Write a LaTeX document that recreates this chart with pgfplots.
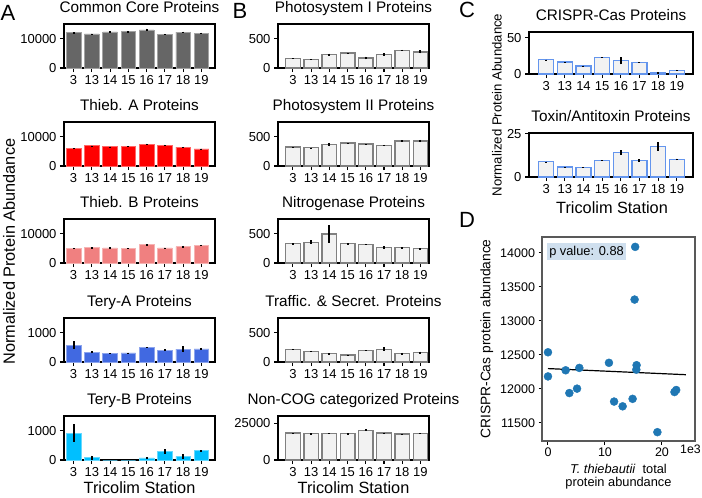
\documentclass[border=0pt]{standalone}
\usepackage{pgfplots}
\pgfplotsset{compat=1.18}
\usepackage{fontspec}
\setmainfont{Liberation Sans}
\definecolor{ccgray}{HTML}{666666}
\definecolor{thA}{HTML}{FF0000}
\definecolor{thB}{HTML}{F08080}
\definecolor{teA}{HTML}{4169E1}
\definecolor{teB}{HTML}{00BFFF}
\definecolor{lgfill}{HTML}{F2F2F2}
\definecolor{bedge}{HTML}{808080}
\definecolor{cedge}{HTML}{6495ED}
\definecolor{dblue}{HTML}{1F77B4}
\definecolor{pbox}{HTML}{CFDFEE}
\pgfplotsset{
  /pgf/number format/assume math mode=true,
  /pgf/number format/1000 sep={},
  barax/.style={
    scale only axis, width=151pt, height=44pt, anchor=north west,
    xmin=-0.6, xmax=7.6, ymin=0,
    xtick={0,...,7}, xticklabels={3,13,14,15,16,17,18,19},
    axis line style={line width=1.1pt, black},
    tick align=outside, tick pos=left, major tick length=4pt,
    every tick/.style={line width=1.1pt, black},
    tick label style={font=\fontsize{13}{15}\selectfont},
    xticklabel style={text height=9.3pt, text depth=0pt},
    title style={font=\fontsize{15.3}{17}\selectfont, anchor=base, yshift=6pt},
    scaled y ticks=false,
    ybar, bar width=0.8,
  },
  errs/.style={error bars/.cd, y dir=both, y explicit, error mark=none,
    error bar style={line width=2pt, black}},
}
\begin{document}
\begin{tikzpicture}[x=1pt,y=1pt]
\useasboundingbox (0,0) rectangle (702,-498);
% ---------------- Panel A ----------------
\begin{axis}[barax, at={(64pt,-24pt)}, xmin=-0.52, xmax=7.74, ymax=15000, ytick={0,10000}, title={Common Core Proteins}]
\addplot[fill=ccgray, draw=ccgray!60!white, line width=0.6pt, errs] table[x=x,y=y,y error=e, row sep=\\] {
x y e\\ 0 12100 150\\ 1 11600 120\\ 2 12300 150\\ 3 12400 80\\ 4 13000 400\\ 5 11500 100\\ 6 12200 200\\ 7 11900 200\\};
\end{axis}
\begin{axis}[barax, at={(64pt,-122pt)}, xmin=-0.52, xmax=7.74, ymax=15000, ytick={0,10000}, title={Thieb. A Proteins}]
\addplot[fill=thA, draw=thA!60!white, line width=0.6pt, errs] table[x=x,y=y,y error=e, row sep=\\] {
x y e\\ 0 6000 100\\ 1 6900 80\\ 2 6550 80\\ 3 6800 80\\ 4 7450 200\\ 5 7100 150\\ 6 6450 100\\ 7 5850 100\\};
\end{axis}
\begin{axis}[barax, at={(64pt,-219pt)}, xmin=-0.52, xmax=7.74, ymax=15000, ytick={0,10000}, title={Thieb. B Proteins}]
\addplot[fill=thB, draw=thB!60!white, line width=0.6pt, errs] table[x=x,y=y,y error=e, row sep=\\] {
x y e\\ 0 5050 150\\ 1 5280 80\\ 2 5170 150\\ 3 5030 50\\ 4 6300 120\\ 5 5170 100\\ 6 5620 200\\ 7 6070 120\\};
\end{axis}
\begin{axis}[barax, at={(64pt,-318pt)}, xmin=-0.52, xmax=7.74, ymax=1500, ytick={0,1000}, title={Tery-A Proteins}]
\addplot[fill=teA, draw=teA!60!white, line width=0.6pt, errs] table[x=x,y=y,y error=e, row sep=\\] {
x y e\\ 0 575 130\\ 1 334 40\\ 2 300 15\\ 3 310 5\\ 4 495 10\\ 5 403 25\\ 6 437 100\\ 7 448 30\\};
\end{axis}
\begin{axis}[barax, at={(64pt,-416pt)}, xmin=-0.52, xmax=7.74, ymax=1500, ytick={0,1000}, title={Tery-B Proteins}]
\addplot[fill=teB, draw=teB!60!white, line width=0.6pt, errs] table[x=x,y=y,y error=e, row sep=\\] {
x y e\\ 0 915 300\\ 1 80 70\\ 2 0 0\\ 3 0 0\\ 4 70 30\\ 5 290 80\\ 6 125 80\\ 7 315 12\\};
\end{axis}
% ---------------- Panel B ----------------
\begin{axis}[barax, at={(278pt,-24pt)}, xmin=-0.82, xmax=7.47, ymax=750, ytick={0,500}, title={Photosystem I Proteins}]
\addplot[fill=lgfill, draw=bedge, line width=1.3pt, errs] table[x=x,y=y,y error=e, row sep=\\] {
x y e\\ 0 162 5\\ 1 145 3\\ 2 228 15\\ 3 258 5\\ 4 170 22\\ 5 228 20\\ 6 300 10\\ 7 275 25\\};
\end{axis}
\begin{axis}[barax, at={(278pt,-122pt)}, xmin=-0.82, xmax=7.47, ymax=750, ytick={0,500}, title={Photosystem II Proteins}]
\addplot[fill=lgfill, draw=bedge, line width=1.3pt, errs] table[x=x,y=y,y error=e, row sep=\\] {
x y e\\ 0 325 3\\ 1 312 3\\ 2 365 30\\ 3 390 3\\ 4 375 6\\ 5 350 10\\ 6 425 12\\ 7 425 20\\};
\end{axis}
\begin{axis}[barax, at={(278pt,-219pt)}, xmin=-0.82, xmax=7.47, ymax=750, ytick={0,500}, title={Nitrogenase Proteins}]
\addplot[fill=lgfill, draw=bedge, line width=1.3pt, errs] table[x=x,y=y,y error=e, row sep=\\] {
x y e\\ 0 330 5\\ 1 355 30\\ 2 495 150\\ 3 330 5\\ 4 318 10\\ 5 262 20\\ 6 262 5\\ 7 245 5\\};
\end{axis}
\begin{axis}[barax, at={(278pt,-318pt)}, xmin=-0.82, xmax=7.47, ymax=750, ytick={0,500}, title={Traffic. \& Secret. Proteins}]
\addplot[fill=lgfill, draw=bedge, line width=1.3pt, errs] table[x=x,y=y,y error=e, row sep=\\] {
x y e\\ 0 219 3\\ 1 184 4\\ 2 144 3\\ 3 121 3\\ 4 201 3\\ 5 219 30\\ 6 144 10\\ 7 161 15\\};
\end{axis}
\begin{axis}[barax, at={(278pt,-416pt)}, xmin=-0.82, xmax=7.47, ymax=30000, ytick={0,25000}, title={Non-COG categorized Proteins}]
\addplot[fill=lgfill, draw=bedge, line width=1.3pt, errs] table[x=x,y=y,y error=e, row sep=\\] {
x y e\\ 0 18400 150\\ 1 18000 200\\ 2 18200 150\\ 3 18000 100\\ 4 20300 500\\ 5 18400 300\\ 6 17800 100\\ 7 18100 100\\};
\end{axis}
% ---------------- Panel C ----------------
\begin{axis}[barax, at={(529pt,-32pt)}, width=164pt, height=42pt, xmin=-0.92, xmax=7.87, ymax=58, ytick={0,50}, title={CRISPR-Cas Proteins}]
\addplot[fill=lgfill, draw=cedge, line width=1.3pt, errs] table[x=x,y=y,y error=e, row sep=\\] {
x y e\\ 0 19.6 0.3\\ 1 16.4 0.3\\ 2 11.2 0.5\\ 3 22.8 0.2\\ 4 18.2 5\\ 5 15.9 0.3\\ 6 1.8 0.5\\ 7 5.2 0.5\\};
\end{axis}
\begin{axis}[barax, at={(529pt,-133pt)}, width=164pt, height=44pt, xmin=-0.92, xmax=7.87, ymax=25.5, ytick={0,25}, title={Toxin/Antitoxin Proteins}]
\addplot[fill=lgfill, draw=cedge, line width=1.3pt, errs] table[x=x,y=y,y error=e, row sep=\\] {
x y e\\ 0 8.8 0.1\\ 1 5.8 0.1\\ 2 5.6 0.2\\ 3 9.6 0.1\\ 4 14.2 1.2\\ 5 9.6 0.8\\ 6 17.7 2.5\\ 7 10.2 0.4\\};
\end{axis}
% ---------------- Panel D ----------------
\begin{axis}[scale only axis, width=153pt, height=204pt, anchor=north west, at={(542pt,-237pt)},
  xmin=-1.05, xmax=25.8, ymin=11235, ymax=14235,
  xtick={0,10,20}, ytick={11500,12000,...,14000},
  axis line style={line width=1.1pt, black!65},
  tick align=outside, tick pos=left, major tick length=3.5pt,
  every tick/.style={line width=1pt, black},
  tick label style={font=\fontsize{12.5}{14}\selectfont},
  scaled ticks=false,
  ylabel={CRISPR-Cas protein abundance},
  ylabel style={font=\fontsize{13.8}{15}\selectfont},
  xlabel={\textit{T. thiebautii}\ \ total\\protein abundance},
  xlabel style={font=\fontsize{12.8}{13.5}\selectfont, align=center},
  clip=false]
\addplot[only marks, mark=*, mark size=4pt, color=dblue, mark options={fill=dblue, draw=dblue}] coordinates {
(0,12540) (0,12185) (3.1,12275) (3.75,11940) (5.5,12310) (5.1,12005) (10.7,12385) (11.6,11815) (13.1,11745) (14.85,11855) (15.3,14090) (15.2,13315) (15.55,12350) (15.5,12285) (19.2,11365) (22.2,11955) (22.5,11985)};
\addplot[black, line width=1.2pt] coordinates {(0,12300) (24.2,12210)};
\node[fill=pbox, anchor=north west, inner sep=2.5pt, font=\fontsize{12.8}{14}\selectfont] at (rel axis cs:0.03,0.97) {p value: 0.88};
\node[font=\fontsize{12.3}{14}\selectfont, anchor=center] at (rel axis cs:1,0) [xshift=-4.5pt, yshift=-8.5pt] {1e3};
\end{axis}
% ---------------- labels ----------------
\node[rotate=90, font=\fontsize{16.3}{18}\selectfont] at (9,-251.5) {Normalized Protein Abundance};
\node[font=\fontsize{16.3}{18}\selectfont] at (139.5,-488) {Tricolim Station};
\node[font=\fontsize{16.3}{18}\selectfont] at (353.5,-488) {Tricolim Station};
\node[font=\fontsize{16.3}{18}\selectfont] at (612,-208) {Tricolim Station};
\node[rotate=90, font=\fontsize{13.2}{15}\selectfont] at (497,-105) {Normalized Protein Abundance};
\node[font=\fontsize{22}{24}\selectfont] at (8,-13) {A};
\node[font=\fontsize{22}{24}\selectfont] at (240,-11) {B};
\node[font=\fontsize{22}{24}\selectfont] at (467,-10) {C};
\node[font=\fontsize{22}{24}\selectfont] at (467,-220) {D};
\end{tikzpicture}
\end{document}
